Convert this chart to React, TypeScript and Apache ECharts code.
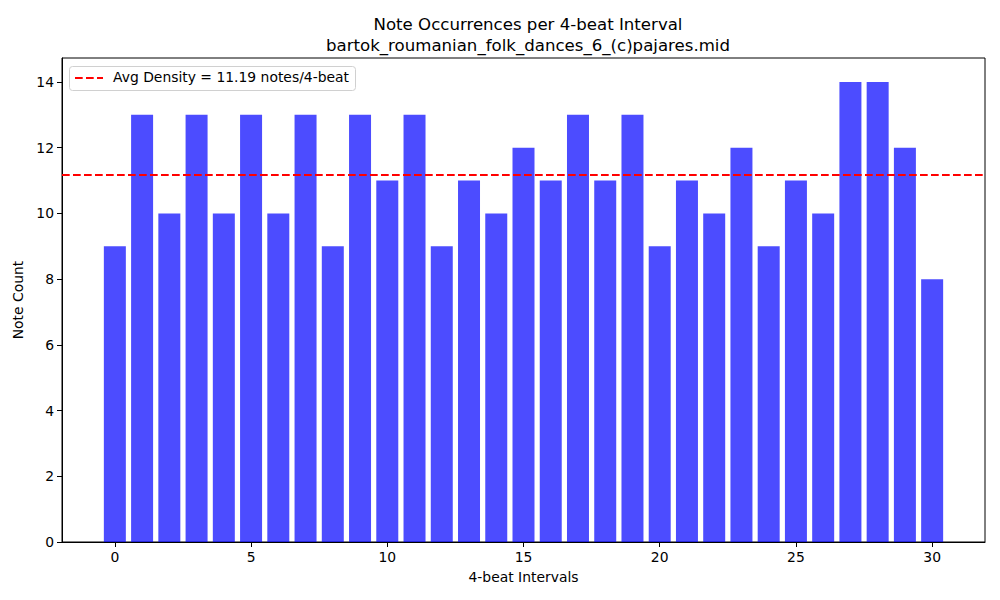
import React, { useEffect, useRef } from "react";
import * as echarts from "echarts";

// note counts per 4-beat interval (index = interval number)
const intervals = Array.from({ length: 31 }, (_, i) => i);
const noteCounts = [
    9, 13, 10, 13, 10, 13, 10, 13, 9, 13, 11, 13, 9, 11, 10, 12,
    11, 13, 11, 13, 9, 11, 10, 12, 9, 11, 10, 14, 14, 12, 8,
];
const xTicks = [0, 5, 10, 15, 20, 25, 30];
const yTicks = [0, 2, 4, 6, 8, 10, 12, 14];
const avgDensity = noteCounts.reduce((a, b) => a + b, 0) / noteCounts.length;
const avgLabel = `Avg Density = ${avgDensity.toFixed(2)} notes/4-beat`;

const FONT = "DejaVu Sans";
const DASH = [7.7, 3.3];

const App: React.FC = () => {
    const ref = useRef<HTMLDivElement>(null);

    useEffect(() => {
        if (!ref.current) return;
        const chart = echarts.init(ref.current, undefined, { renderer: "svg" });

        const option = {
            animation: false,
            title: {
                text: "Note Occurrences per 4-beat Interval\nbartok_roumanian_folk_dances_6_(c)pajares.mid",
                left: 523,
                top: 9,
                textAlign: "center",
                textStyle: {
                    fontFamily: FONT,
                    fontSize: 16.6,
                    fontWeight: "normal",
                    color: "#000",
                    lineHeight: 21,
                },
            },
            // legend box drawn by hand (matplotlib style: dashed line + label)
            graphic: [
                {
                    type: "rect",
                    left: 69,
                    top: 66,
                    shape: { width: 286, height: 24, r: 3 },
                    style: { fill: "rgba(255,255,255,0.8)", stroke: "#d0d0d0", lineWidth: 1 },
                    z: 10,
                },
                {
                    type: "line",
                    shape: { x1: 75, y1: 78, x2: 103, y2: 78 },
                    style: { stroke: "red", lineWidth: 2, lineDash: DASH },
                    z: 11,
                },
                {
                    type: "text",
                    left: 113,
                    top: 70,
                    style: { text: avgLabel, font: `13.9px "${FONT}"`, fill: "#000" },
                    z: 11,
                },
            ],
            grid: {
                left: 62,
                right: 15,
                top: 58,
                bottom: 58,
                show: true,
                borderColor: "#000",
                borderWidth: 1,
                backgroundColor: "transparent",
            },
            xAxis: {
                type: "value",
                min: -1.94,
                max: 31.94,
                name: "4-beat Intervals",
                nameLocation: "middle",
                nameGap: 28,
                nameTextStyle: { fontFamily: FONT, fontSize: 13.9, color: "#000" },
                axisLine: { show: true, onZero: false, lineStyle: { color: "#000" } },
                axisTick: {
                    show: true,
                    inside: false,
                    length: 5,
                    customValues: xTicks,
                    lineStyle: { color: "#000" },
                },
                axisLabel: {
                    customValues: xTicks,
                    fontFamily: FONT,
                    fontSize: 13.9,
                    color: "#000",
                    margin: 8,
                },
                splitLine: { show: false },
            },
            yAxis: {
                type: "value",
                min: 0,
                max: 14.73,
                name: "Note Count",
                nameLocation: "middle",
                nameGap: 34,
                nameRotate: 90,
                nameTextStyle: { fontFamily: FONT, fontSize: 13.9, color: "#000" },
                axisLine: { show: true, onZero: false, lineStyle: { color: "#000" } },
                axisTick: {
                    show: true,
                    inside: false,
                    length: 5,
                    customValues: yTicks,
                    lineStyle: { color: "#000" },
                },
                axisLabel: {
                    customValues: yTicks,
                    fontFamily: FONT,
                    fontSize: 13.9,
                    color: "#000",
                    margin: 8,
                },
                splitLine: { show: false },
            },
            series: [
                {
                    type: "bar",
                    name: "counts",
                    data: intervals.map((x, i) => [x, noteCounts[i]]),
                    barWidth: 22,
                    itemStyle: { color: "rgba(0,0,255,0.7)" },
                    silent: true,
                    markLine: {
                        silent: true,
                        symbol: "none",
                        label: { show: false },
                        lineStyle: { color: "red", type: DASH, width: 2 },
                        data: [{ yAxis: avgDensity }],
                    },
                },
            ],
        };

        chart.setOption(option);
        return () => chart.dispose();
    }, []);

    return (
        <div
            ref={ref}
            style={{ position: "absolute", left: 0, top: 0, width: 1000, height: 600 }}
        />
    );
};

export default App;
